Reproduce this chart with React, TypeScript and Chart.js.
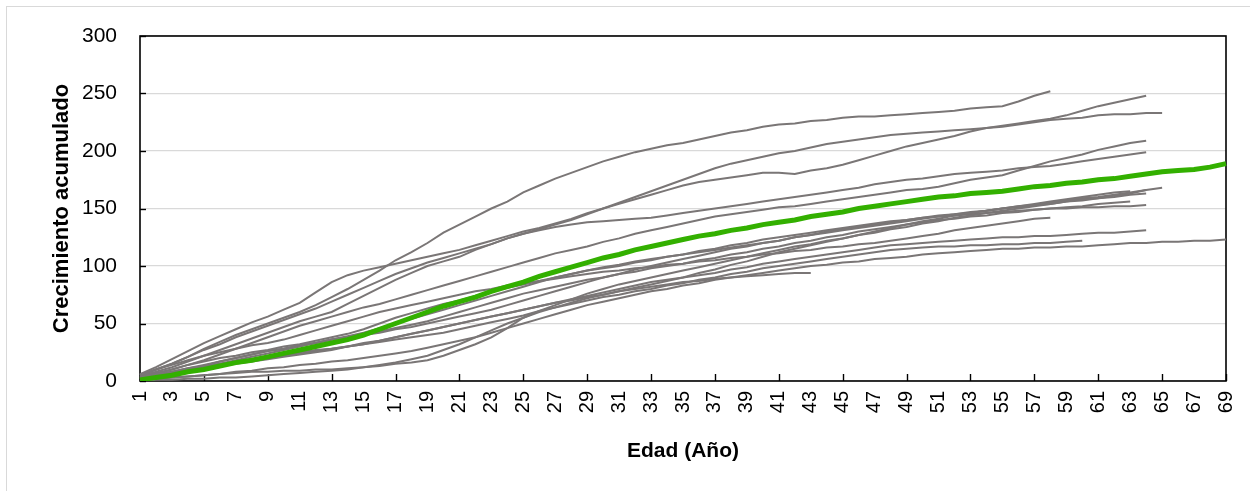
import React, { useEffect, useRef } from 'react';
import { Chart, registerables } from 'chart.js';

Chart.register(...registerables);

const ages = [
  1, 2, 3, 4, 5, 6, 7, 8, 9, 10, 11, 12, 13, 14, 15, 16, 17, 18, 19, 20,
  21, 22, 23, 24, 25, 26, 27, 28, 29, 30, 31, 32, 33, 34, 35, 36, 37, 38, 39, 40,
  41, 42, 43, 44, 45, 46, 47, 48, 49, 50, 51, 52, 53, 54, 55, 56, 57, 58, 59, 60,
  61, 62, 63, 64, 65, 66, 67, 68, 69,
];

const treeA = [5,10,15,21,28,34,40,45,50,55,60,66,73,80,88,96,105,112,120,129,136,143,150,156,164,170,176,181,186,191,195,199,202,205,207,210,213,216,218,221,223,224,226,227,229,230,230,231,232,233,234,235,237,238,239,243,248,252];
const treeB = [6,12,19,26,33,39,45,51,56,62,68,77,86,92,96,99,102,105,108,111,114,118,122,126,130,133,137,141,146,150,154,158,162,166,170,173,175,177,179,181,181,180,183,185,188,192,196,200,204,207,210,213,217,220,222,224,226,228,231,235,239,242,245,248];
const treeC = [5,10,15,21,27,32,38,43,48,53,58,63,69,75,81,87,93,98,103,107,111,115,119,124,128,132,136,140,145,150,155,160,165,170,175,180,185,189,192,195,198,200,203,206,208,210,212,214,215,216,217,218,219,220,221,223,225,227,228,229,231,232,232,233,233];
const treeD = [3,6,10,14,18,23,28,33,38,43,48,52,56,60,64,67,71,75,79,83,87,91,95,99,103,107,111,114,117,121,124,128,131,134,137,140,143,145,147,149,151,152,154,156,158,160,162,164,166,167,169,172,175,177,179,183,187,191,194,197,201,204,207,209];
const treeE = [4,8,12,17,22,27,32,37,42,47,52,56,60,67,74,81,88,94,100,104,108,114,119,124,128,131,134,136,138,139,140,141,142,144,146,148,150,152,154,156,158,160,162,164,166,168,171,173,175,176,178,180,181,182,183,185,186,187,189,191,193,195,197,199];
const treeF = [2,4,6,9,12,15,18,21,24,27,30,33,36,39,42,46,50,54,58,62,66,70,74,78,82,86,90,93,96,99,101,104,106,108,110,112,114,116,118,120,122,125,127,129,131,133,135,137,139,141,143,145,146,148,150,152,153,155,157,159,160,162,164,166,168];
const treeG = [0,1,1,2,2,3,3,4,5,6,7,8,9,10,12,13,15,16,18,22,27,32,38,46,55,61,66,71,76,80,84,87,90,93,96,99,102,105,108,111,114,117,119,122,124,127,129,132,134,137,139,142,144,146,148,150,152,154,156,158,159,161,163,166];
const treeH = [1,2,3,4,5,6,7,8,8,9,9,10,10,11,12,14,16,19,22,27,32,38,44,50,55,60,64,68,72,75,78,81,84,87,90,94,97,101,104,108,112,115,118,121,124,127,130,133,136,139,141,144,146,148,150,152,154,156,158,160,162,164,165];
const treeI = [3,5,8,11,14,17,20,23,26,28,31,33,36,38,40,42,45,47,50,53,56,59,62,66,70,74,78,82,86,90,93,97,100,103,106,109,112,115,117,120,122,125,127,130,132,134,136,138,140,142,144,145,147,148,150,151,153,154,156,157,159,160,162,163];
const treeJ = [2,4,7,10,13,17,20,23,26,28,31,33,36,38,41,43,46,49,52,56,60,64,68,72,76,79,82,85,88,90,93,95,98,100,102,105,107,110,112,115,117,120,122,125,127,130,132,134,136,138,140,141,143,144,146,147,149,150,151,152,154,155,156];
const treeK = [4,7,10,14,17,20,22,25,27,30,32,35,38,41,45,50,55,59,63,67,70,74,78,81,84,87,90,93,96,98,100,103,105,108,110,113,115,118,120,123,125,127,129,131,133,135,137,139,140,142,143,144,145,146,147,148,149,150,150,151,151,152,152,153];
const treeL = [5,10,14,18,22,25,28,31,33,36,40,44,48,52,56,60,63,66,69,72,75,78,80,83,85,87,89,91,93,95,96,98,99,101,102,104,105,107,108,110,111,113,114,116,117,119,120,122,124,126,128,131,133,135,137,139,141,142];
const treeM = [2,4,6,8,10,13,15,17,19,21,23,25,27,30,32,35,38,41,44,47,50,53,56,59,62,65,68,71,74,77,80,83,86,88,90,92,94,97,99,102,104,106,108,110,112,114,116,118,119,120,121,122,123,124,125,125,126,126,127,128,129,129,130,131];
const treeN = [3,6,8,11,13,15,17,19,21,23,25,27,28,30,32,34,36,38,40,42,45,48,51,54,57,61,64,67,70,73,75,78,80,83,85,88,90,93,95,98,100,102,104,106,108,110,112,114,115,116,117,117,118,118,119,119,120,120,121,122];
const treeO = [1,2,3,4,5,6,8,9,11,12,14,15,17,18,20,22,24,26,29,32,35,38,42,46,50,54,58,62,66,69,72,75,78,80,83,85,88,90,92,94,96,98,100,101,103,104,106,107,108,110,111,112,113,114,115,115,116,116,117,117,118,119,120,120,121,121,122,122,123];
const treeP = [2,4,6,9,11,14,16,18,20,22,24,26,28,30,33,35,38,41,44,47,50,53,56,59,62,65,68,70,73,75,78,80,82,84,86,87,89,90,91,92,93,94,94];
const average = [1,3,5,8,10,13,16,18,21,24,27,30,33,36,40,45,50,55,60,65,69,73,78,82,86,91,95,99,103,107,110,114,117,120,123,126,128,131,133,136,138,140,143,145,147,150,152,154,156,158,160,161,163,164,165,167,169,170,172,173,175,176,178,180,182,183,184,186,189];

const trees = [treeA, treeB, treeC, treeD, treeE, treeF, treeG, treeH, treeI, treeJ, treeK, treeL, treeM, treeN, treeO, treeP];
const yTicks = [0, 50, 100, 150, 200, 250, 300];

const FONT = '"Liberation Sans", Arial, sans-serif';

const framePlugin = {
  id: 'frameAndTicks',
  beforeDatasetsDraw(chart: any) {
    const { ctx, chartArea: a, scales } = chart;
    ctx.save();
    ctx.strokeStyle = '#000000';
    ctx.lineWidth = 1.6;
    ctx.strokeRect(a.left, a.top, a.right - a.left, a.bottom - a.top);
    ctx.lineWidth = 1.4;
    const ys = scales.y;
    ys.ticks.forEach((_t: any, i: number) => {
      const py = Math.round(ys.getPixelForTick(i)) + 0.5;
      ctx.beginPath();
      ctx.moveTo(a.left, py);
      ctx.lineTo(a.left + 6, py);
      ctx.stroke();
    });
    const xs = scales.x;
    xs.ticks.forEach((_t: any, i: number) => {
      if (i % 2 !== 0) return;
      const px = Math.round(xs.getPixelForTick(i)) + 0.5;
      ctx.beginPath();
      ctx.moveTo(px, a.bottom);
      ctx.lineTo(px, a.bottom - 7);
      ctx.stroke();
    });
    ctx.restore();
  },
};

export default function App() {
  const ref = useRef<HTMLCanvasElement | null>(null);

  useEffect(() => {
    if (!ref.current) return;
    const datasets: any[] = [
      {
        label: 'Promedio',
        data: average,
        borderColor: '#33b000',
        borderWidth: 5,
        pointRadius: 0,
        tension: 0,
        fill: false,
      },
      ...trees.map((t, i) => ({
        label: 'Árbol ' + (i + 1),
        data: t,
        borderColor: '#7a7676',
        borderWidth: 2,
        pointRadius: 0,
        tension: 0,
        fill: false,
      })),
    ];
    const chart = new Chart(ref.current, {
      type: 'line',
      data: { labels: ages.map(String), datasets },
      plugins: [framePlugin],
      options: {
        responsive: false,
        animation: false,
        events: [],
        layout: { padding: { top: 36, right: 24, left: 0, bottom: 0 } },
        plugins: { legend: { display: false }, tooltip: { enabled: false } },
        scales: {
          x: {
            type: 'category',
            offset: false,
            grid: { display: false, drawTicks: false },
            border: { display: false },
            ticks: {
              autoSkip: false,
              minRotation: 90,
              maxRotation: 90,
              padding: 10,
              color: '#000000',
              font: { family: FONT, size: 20 },
              callback: (_v: any, i: number) => (i % 2 === 0 ? String(ages[i]) : null),
            },
            title: {
              display: true,
              text: 'Edad (Año)',
              color: '#000000',
              font: { family: FONT, size: 21, weight: 'bold' },
              padding: { top: 27, bottom: 27 },
            },
            afterFit: (s: any) => {
              s.height = 110;
              s.paddingLeft = 0;
              s.paddingRight = 0;
            },
          },
          y: {
            min: 0,
            max: 300,
            afterBuildTicks: (s: any) => {
              s.ticks = yTicks.map((v) => ({ value: v }));
            },
            grid: { color: '#d9d9d9', lineWidth: 1.3, drawTicks: false },
            border: { display: false },
            ticks: {
              padding: 23,
              color: '#000000',
              font: { family: FONT, size: 21 },
            },
            title: {
              display: true,
              text: 'Crecimiento acumulado',
              color: '#000000',
              font: { family: FONT, size: 22, weight: 'bold' },
              padding: { top: 49, bottom: 49 },
            },
            afterFit: (s: any) => {
              s.width = 140;
              s.paddingTop = 0;
              s.paddingBottom = 0;
            },
          },
        },
      } as any,
    });
    return () => chart.destroy();
  }, []);

  return (
    <div style={{ position: 'absolute', left: 0, top: 0, width: 1250, height: 491, background: '#ffffff' }}>
      <div
        style={{
          position: 'absolute',
          left: 6,
          top: 6,
          width: 1260,
          height: 500,
          border: '1px solid #d9d9d9',
          boxSizing: 'border-box',
        }}
      />
      <canvas ref={ref} width={1250} height={491} style={{ position: 'absolute', left: 0, top: 0, width: 1250, height: 491 }} />
    </div>
  );
}
